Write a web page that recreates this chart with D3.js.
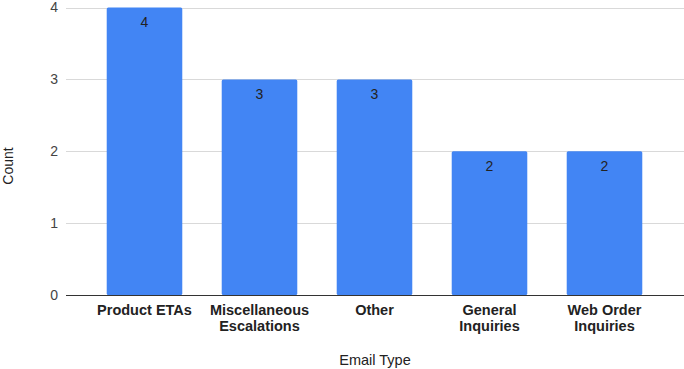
<!DOCTYPE html>
<html>
<head>
<meta charset="utf-8">
<script src="https://cdn.jsdelivr.net/npm/d3@7"></script>
<style>
  html, body { margin: 0; padding: 0; background: #fff; }
  svg { display: block; font-family: Arial, "Liberation Sans", sans-serif; }
</style>
</head>
<body>
<svg id="chart" width="684" height="369"></svg>
<script>
// Email counts by type
const categories = [
  ["Product ETAs"],
  ["Miscellaneous", "Escalations"],
  ["Other"],
  ["General", "Inquiries"],
  ["Web Order", "Inquiries"]
];
const counts = [4, 3, 3, 2, 2];
const yTicks = [0, 1, 2, 3, 4];
const xTitle = "Email Type";
const yTitle = "Count";

const svg = d3.select("#chart");
const plotLeft = 66, plotRight = 684, plotTop = 7.5, plotBottom = 295;

const x = d3.scaleBand()
  .domain(d3.range(counts.length))
  .range([87, 662])
  .paddingInner(0.343)
  .paddingOuter(0.343 / 2);

const y = d3.scaleLinear().domain([0, 4]).range([plotBottom, plotTop]);

// Gridlines
svg.append("g")
  .selectAll("line")
  .data(yTicks.filter(d => d > 0))
  .join("line")
  .attr("x1", plotLeft).attr("x2", plotRight)
  .attr("y1", d => Math.round(y(d)) + 0.5).attr("y2", d => Math.round(y(d)) + 0.5)
  .attr("stroke", "#d9d9d9").attr("stroke-width", 1);

// Y axis tick labels
const yAxis = d3.axisLeft(y).tickValues(yTicks).tickFormat(d3.format("d")).tickSize(0).tickPadding(0);
const gy = svg.append("g").attr("transform", `translate(${plotLeft - 8},0)`).call(yAxis);
gy.select(".domain").remove();
gy.selectAll("text")
  .attr("fill", "#444").attr("font-size", 14)
  .attr("font-family", "Arial, 'Liberation Sans', sans-serif");

// Bars
svg.append("g")
  .selectAll("rect")
  .data(counts)
  .join("rect")
  .attr("x", (d, i) => x(i))
  .attr("width", x.bandwidth())
  .attr("y", d => y(d))
  .attr("height", d => y(0) - y(d))
  .attr("rx", 1.5)
  .attr("fill", "#4285f4");

// Value labels inside the bar tops
svg.append("g")
  .selectAll("text")
  .data(counts)
  .join("text")
  .attr("x", (d, i) => x(i) + x.bandwidth() / 2)
  .attr("y", d => y(d) + 19.5)
  .attr("text-anchor", "middle")
  .attr("font-size", 14)
  .attr("fill", "#222")
  .text(d => d);

// Baseline
svg.append("line")
  .attr("x1", plotLeft).attr("x2", plotRight)
  .attr("y1", plotBottom + 0.5).attr("y2", plotBottom + 0.5)
  .attr("stroke", "#333").attr("stroke-width", 1);

// X axis category labels
const gx = svg.append("g");
categories.forEach((lines, i) => {
  const t = gx.append("text")
    .attr("x", x(i) + x.bandwidth() / 2)
    .attr("y", 315)
    .attr("text-anchor", "middle")
    .attr("font-size", 14.5)
    .attr("font-weight", "bold")
    .attr("fill", "#222");
  lines.forEach((s, j) => {
    t.append("tspan")
      .attr("x", x(i) + x.bandwidth() / 2)
      .attr("dy", j === 0 ? 0 : 15.5)
      .text(s);
  });
});

// Axis titles
svg.append("text")
  .attr("x", (plotLeft + plotRight) / 2)
  .attr("y", 365)
  .attr("text-anchor", "middle")
  .attr("font-size", 14.5)
  .attr("fill", "#222")
  .text(xTitle);

svg.append("text")
  .attr("transform", "translate(12.5,166) rotate(-90)")
  .attr("text-anchor", "middle")
  .attr("font-size", 14)
  .attr("fill", "#222")
  .text(yTitle);
</script>
</body>
</html>
